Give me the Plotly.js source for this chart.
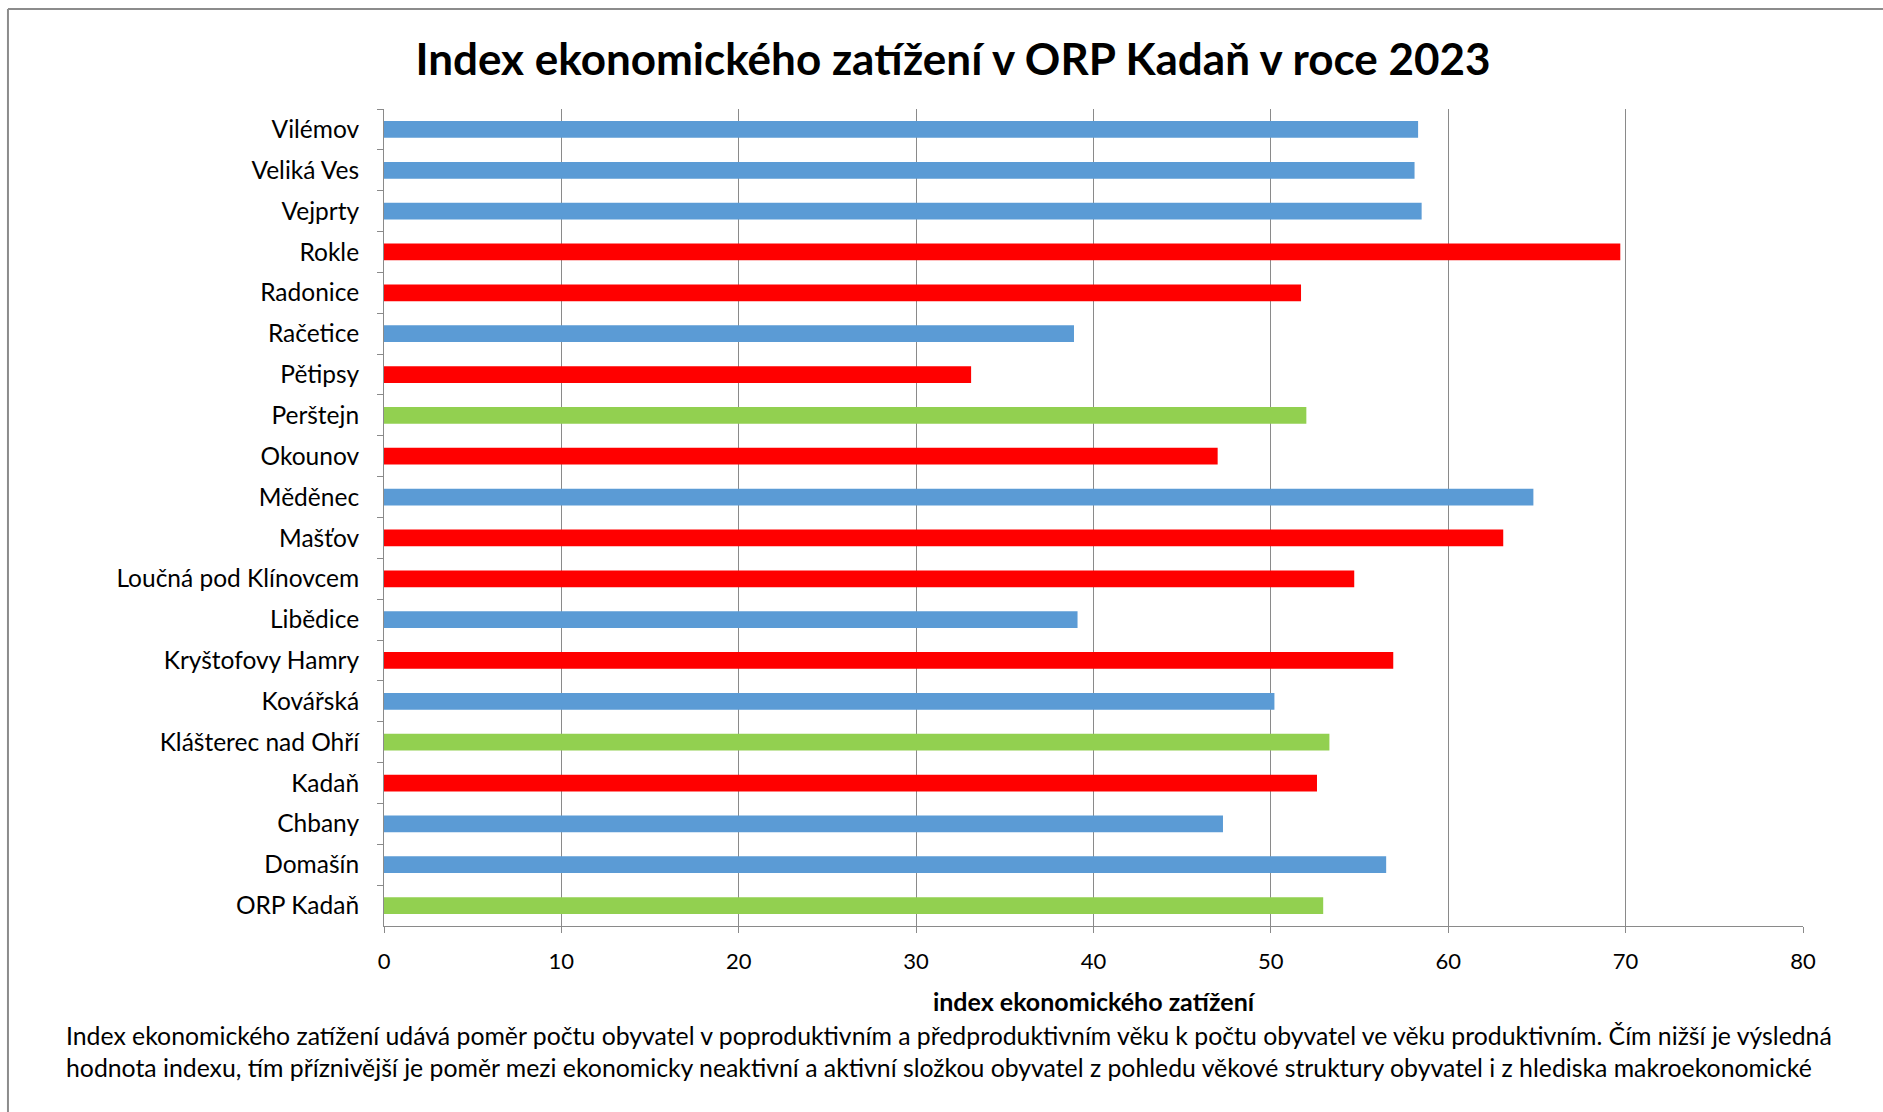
<!DOCTYPE html>
<html>
<head>
<meta charset="utf-8">
<script src="https://cdn.plot.ly/plotly-3.0.1.min.js"></script>
<style>
html,body{margin:0;padding:0;background:#fff;}
#chart{width:1883px;height:1112px;}
</style>
</head>
<body>
<div id="chart"></div>
<script>
// Categories, top to bottom as displayed
const municipalities = [
  "Vilémov", "Veliká Ves", "Vejprty", "Rokle", "Radonice", "Račetice",
  "Pětipsy", "Perštejn", "Okounov", "Měděnec", "Mašťov",
  "Loučná pod Klínovcem", "Libědice", "Kryštofovy Hamry", "Kovářská",
  "Klášterec nad Ohří", "Kadaň", "Chbany", "Domašín", "ORP Kadaň"
];
const indexValues = [
  58.3, 58.1, 58.5, 69.7, 51.7, 38.9,
  33.1, 52.0, 47.0, 64.8, 63.1,
  54.7, 39.1, 56.9, 50.2,
  53.3, 52.6, 47.3, 56.5, 52.95
];
// group of each bar (A = blue, B = red, C = green in the original)
const groups = [
  "A", "A", "A", "B", "B", "A",
  "B", "C", "B", "A", "B",
  "B", "A", "B", "A",
  "C", "B", "A", "A", "C"
];
const xTicks = [0, 10, 20, 30, 40, 50, 60, 70, 80];

const groupColor = {A: "#5B9BD5", B: "#FF0000", C: "#92D050"};
const FONT = "Lato, 'Open Sans', sans-serif";

const trace = {
  type: "bar",
  orientation: "h",
  x: indexValues,
  y: municipalities,
  marker: {color: groups.map(g => groupColor[g])},
  hoverinfo: "x+y"
};

const footnote = "Index ekonomického zatížení udává poměr počtu obyvatel v poproduktivním a předproduktivním věku k počtu obyvatel ve věku produktivním. Čím nižší je výsledná<br>hodnota indexu, tím příznivější je poměr mezi ekonomicky neaktivní a aktivní složkou obyvatel z pohledu věkové struktury obyvatel i z hlediska makroekonomické";

const layout = {
  width: 1883,
  height: 1112,
  paper_bgcolor: "#fff",
  plot_bgcolor: "#fff",
  margin: {l: 384, r: 80, t: 109, b: 186},
  showlegend: false,
  bargap: 0.59,
  font: {family: FONT, color: "#000", size: 21},
  title: {
    text: "<b>Index ekonomického zatížení v ORP Kadaň v roce 2023</b>",
    font: {family: FONT, size: 44, color: "#000"},
    x: 0.401, xref: "paper", xanchor: "center",
    y: 0.946, yref: "container", yanchor: "middle"
  },
  xaxis: {
    range: [0, 80],
    tickvals: xTicks,
    ticktext: xTicks.map(String),
    showgrid: true,
    gridcolor: "#8a8a8a",
    gridwidth: 1,
    zeroline: false,
    showline: true,
    linecolor: "#8a8a8a",
    linewidth: 1,
    ticks: "outside",
    ticklen: 6,
    tickcolor: "#8a8a8a",
    tickfont: {family: FONT, size: 22, color: "#000"},
    ticklabelstandoff: 10,
    automargin: false,
    title: {
      text: "<b>index ekonomického zatížení</b>",
      font: {family: FONT, size: 25, color: "#000"},
      standoff: 20
    },
    fixedrange: true
  },
  yaxis: {
    type: "category",
    autorange: "reversed",
    showgrid: false,
    zeroline: false,
    showline: true,
    linecolor: "#8a8a8a",
    linewidth: 1,
    ticks: "outside",
    tickson: "boundaries",
    ticklen: 6,
    tickcolor: "#8a8a8a",
    tickfont: {family: FONT, size: 24.5, color: "#000"},
    ticklabelstandoff: 19,
    automargin: false,
    fixedrange: true
  },
  annotations: [{
    text: footnote,
    xref: "paper", yref: "paper",
    x: -0.2255, y: -0.114,
    xanchor: "left", yanchor: "top",
    align: "left",
    showarrow: false,
    font: {family: FONT, size: 24.8, color: "#000"}
  }],
  shapes: [
    {type: "line", xref: "paper", yref: "paper", x0: -0.265, x1: 1.1, y0: 1.1224, y1: 1.1224,
     line: {color: "#8c8c8c", width: 2}},
    {type: "line", xref: "paper", yref: "paper", x0: -0.265, x1: -0.265, y0: 1.1224, y1: -0.3,
     line: {color: "#8c8c8c", width: 2}}
  ]
};

Plotly.newPlot("chart", [trace], layout, {displayModeBar: false, staticPlot: true});
</script>
</body>
</html>
